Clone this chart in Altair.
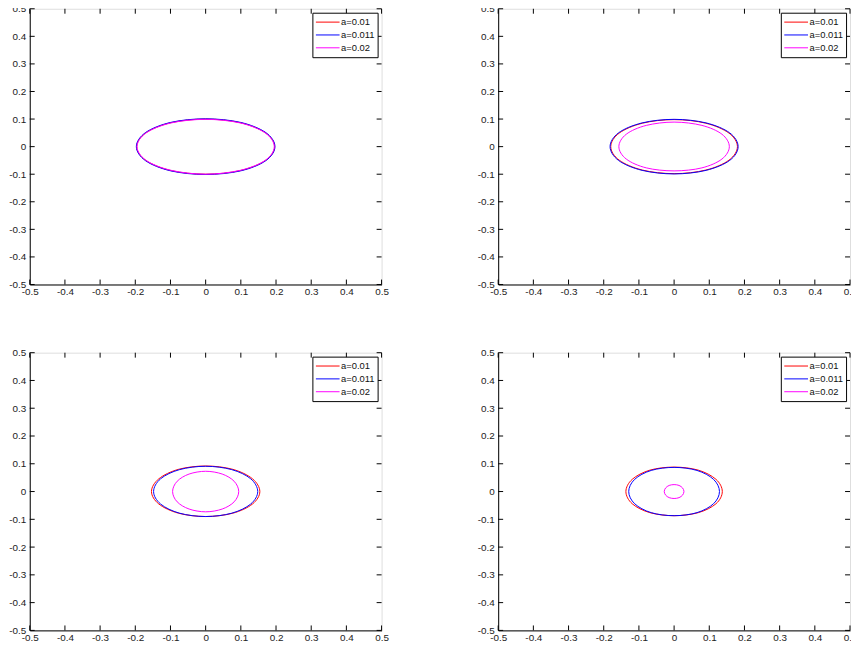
import altair as alt
import pandas as pd

# ---------------- data ----------------
series_names = ["a=0.01", "a=0.011", "a=0.02"]
series_colors = ["#ff0000", "#0000ff", "#ff00ff"]
ticks = [-0.5, -0.4, -0.3, -0.2, -0.1, 0.0, 0.1, 0.2, 0.3, 0.4, 0.5]

# panel 1 (top left)
p1_red_x = [0.196, 0.170, 0.098, 0.0, -0.098, -0.170, -0.196, -0.170, -0.098, 0.0, 0.098, 0.170]
p1_red_y = [0.0, 0.050, 0.087, 0.100, 0.087, 0.050, 0.0, -0.050, -0.087, -0.100, -0.087, -0.050]
p1_blue_x = [0.197, 0.171, 0.099, 0.0, -0.099, -0.171, -0.197, -0.171, -0.099, 0.0, 0.099, 0.171]
p1_blue_y = [0.0, 0.051, 0.088, 0.101, 0.088, 0.051, 0.0, -0.051, -0.088, -0.101, -0.088, -0.051]
p1_mag_x = [0.195, 0.169, 0.098, 0.0, -0.098, -0.169, -0.195, -0.169, -0.098, 0.0, 0.098, 0.169]
p1_mag_y = [0.0, 0.050, 0.086, 0.099, 0.086, 0.050, 0.0, -0.050, -0.086, -0.100, -0.086, -0.050]

# panel 2 (top right)
p2_red_x = [0.180, 0.156, 0.090, 0.0, -0.090, -0.156, -0.180, -0.156, -0.090, 0.0, 0.090, 0.156]
p2_red_y = [0.0, 0.049, 0.085, 0.098, 0.085, 0.049, 0.0, -0.049, -0.085, -0.098, -0.085, -0.049]
p2_blue_x = [0.182, 0.158, 0.091, 0.0, -0.091, -0.158, -0.182, -0.158, -0.091, 0.0, 0.091, 0.158]
p2_blue_y = [0.0, 0.050, 0.086, 0.099, 0.086, 0.050, 0.0, -0.050, -0.086, -0.099, -0.086, -0.050]
p2_mag_x = [0.157, 0.136, 0.079, 0.0, -0.079, -0.136, -0.157, -0.136, -0.079, 0.0, 0.079, 0.136]
p2_mag_y = [0.0, 0.045, 0.077, 0.089, 0.077, 0.045, 0.0, -0.045, -0.077, -0.088, -0.077, -0.045]

# panel 3 (bottom left)
p3_red_x = [0.154, 0.133, 0.077, 0.0, -0.077, -0.133, -0.154, -0.133, -0.077, 0.0, 0.077, 0.133]
p3_red_y = [0.0, 0.046, 0.080, 0.092, 0.080, 0.046, 0.0, -0.045, -0.078, -0.090, -0.078, -0.045]
p3_blue_x = [0.148, 0.128, 0.074, 0.0, -0.074, -0.128, -0.148, -0.128, -0.074, 0.0, 0.074, 0.128]
p3_blue_y = [0.0, 0.046, 0.079, 0.091, 0.079, 0.046, 0.0, -0.045, -0.078, -0.090, -0.078, -0.045]
p3_mag_x = [0.094, 0.081, 0.047, 0.0, -0.047, -0.081, -0.094, -0.081, -0.047, 0.0, 0.047, 0.081]
p3_mag_y = [0.0, 0.037, 0.063, 0.073, 0.063, 0.037, 0.0, -0.037, -0.063, -0.073, -0.063, -0.037]

# panel 4 (bottom right)
p4_red_x = [0.137, 0.119, 0.069, 0.0, -0.069, -0.119, -0.137, -0.119, -0.069, 0.0, 0.069, 0.119]
p4_red_y = [0.0, 0.044, 0.077, 0.088, 0.077, 0.044, 0.0, -0.044, -0.076, -0.087, -0.076, -0.044]
p4_blue_x = [0.129, 0.112, 0.065, 0.0, -0.065, -0.112, -0.129, -0.112, -0.065, 0.0, 0.065, 0.112]
p4_blue_y = [0.0, 0.044, 0.076, 0.087, 0.076, 0.044, 0.0, -0.044, -0.076, -0.087, -0.076, -0.044]
p4_mag_x = [0.028, 0.024, 0.014, 0.0, -0.014, -0.024, -0.028, -0.024, -0.014, 0.0, 0.014, 0.024]
p4_mag_y = [0.0, 0.013, 0.022, 0.025, 0.022, 0.013, 0.0, -0.013, -0.022, -0.025, -0.022, -0.013]

panels = [
    [(p1_red_x, p1_red_y), (p1_blue_x, p1_blue_y), (p1_mag_x, p1_mag_y)],
    [(p2_red_x, p2_red_y), (p2_blue_x, p2_blue_y), (p2_mag_x, p2_mag_y)],
    [(p3_red_x, p3_red_y), (p3_blue_x, p3_blue_y), (p3_mag_x, p3_mag_y)],
    [(p4_red_x, p4_red_y), (p4_blue_x, p4_blue_y), (p4_mag_x, p4_mag_y)],
]

FONT = "Liberation Sans"
W = 356
TK = 5  # inward tick length

tick_df = pd.DataFrame({"t": ticks})
dom = alt.Scale(domain=[-0.5, 0.5], nice=False, zero=False)
label_expr = "toString(round(datum.value*10)/10)"

x_axis = alt.Axis(values=ticks, ticks=False, grid=False, title=None,
                  domainColor="black", labelExpr=label_expr, labelFont=FONT,
                  labelFontSize=10, labelColor="#222", labelPadding=2,
                  labelFlush=False, labelOverlap=False)
y_axis = alt.Axis(values=ticks, ticks=False, grid=False, title=None,
                  domainColor="black", labelExpr=label_expr, labelFont=FONT,
                  labelFontSize=10, labelColor="#222", labelPadding=4,
                  labelFlush=False, labelOverlap=False)


def make_panel(curves, H):
    rows = []
    for name, (xs, ys) in zip(series_names, curves):
        for i, (xv, yv) in enumerate(zip(xs, ys)):
            rows.append({"series": name, "i": i, "x": xv, "y": yv})
    df = pd.DataFrame(rows)

    lines = alt.Chart(df).mark_line(
        interpolate="cardinal-closed", strokeWidth=1, clip=True
    ).encode(
        x=alt.X("x:Q", scale=dom, axis=x_axis),
        y=alt.Y("y:Q", scale=dom, axis=y_axis),
        color=alt.Color("series:N", scale=alt.Scale(domain=series_names, range=series_colors),
                        legend=alt.Legend(
                            title=None, orient="top-right", offset=4,
                            strokeColor="black", fillColor="white", padding=3,
                            symbolType="stroke", symbolSize=576, symbolStrokeWidth=1,
                            clipHeight=13,
                            labelFont=FONT, labelFontSize=9.5, labelColor="#111",
                            rowPadding=0, labelOffset=1)),
        order="i:Q",
    )

    base = alt.Chart(tick_df)
    bottom = base.mark_rule(color="black").encode(
        x=alt.X("t:Q", scale=dom, axis=x_axis), y=alt.value(H), y2=alt.value(H - TK))
    top = base.mark_rule(color="black").encode(
        x=alt.X("t:Q", scale=dom, axis=x_axis), y=alt.value(0), y2=alt.value(TK))
    left = base.mark_rule(color="black").encode(
        y=alt.Y("t:Q", scale=dom, axis=y_axis), x=alt.value(0), x2=alt.value(TK))
    right = base.mark_rule(color="black").encode(
        y=alt.Y("t:Q", scale=dom, axis=y_axis), x=alt.value(W), x2=alt.value(W - TK))

    return alt.layer(lines, bottom, top, left, right).properties(width=W, height=H)


p = [make_panel(panels[0], 279), make_panel(panels[1], 279),
     make_panel(panels[2], 281), make_panel(panels[3], 281)]
row1 = alt.hconcat(p[0], p[1], spacing=88).resolve_scale(color="independent").resolve_legend(color="independent")
row2 = alt.hconcat(p[2], p[3], spacing=88).resolve_scale(color="independent").resolve_legend(color="independent")

chart = alt.vconcat(row1, row2, spacing=50).resolve_scale(
    color="independent").resolve_legend(color="independent").properties(
    padding={"top": -9, "left": 0, "right": -7, "bottom": -2}
).configure_view(stroke="black", strokeWidth=1).configure(background="white")

chart.save("out.html", embed_options={"renderer": "svg", "actions": False})
